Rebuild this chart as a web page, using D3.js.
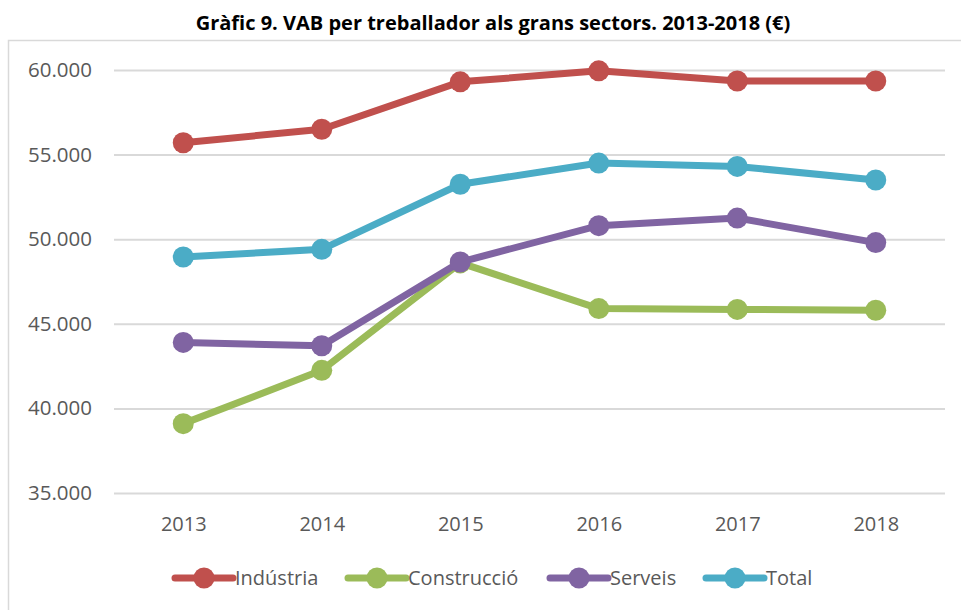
<!DOCTYPE html>
<html>
<head>
<meta charset="utf-8">
<script src="https://cdn.jsdelivr.net/npm/d3@7"></script>
<style>
    body {margin: 0; background: #fff;}
    text {font-family: 'Open Sans', sans-serif;}
</style>
</head>
<body>
<div id="viz"></div>
<script>

// dades - data

var anys = ['2013', '2014', '2015', '2016', '2017', '2018'];

var industria    = [55700, 56500, 59300, 59950, 59350, 59350];
var construccio  = [39100, 42250, 48600, 45900, 45850, 45800];
var serveis      = [43900, 43700, 48650, 50800, 51250, 49800];
var total        = [48950, 49400, 53250, 54500, 54300, 53500];

var yTicks = [35000, 40000, 45000, 50000, 55000, 60000];

var series = [
    {nom: 'Indústria', valors: industria, color: '#c0504d'},
    {nom: 'Construcció', valors: construccio, color: '#9bbb59'},
    {nom: 'Serveis', valors: serveis, color: '#8064a2'},
    {nom: 'Total', valors: total, color: '#4bacc6'}
];

var width = 961;
var height = 610;

var svg = d3
    .select('#viz')
    .append('svg')
    .attr('width', width)
    .attr('height', height)
    ;

// marc del grafic - chart frame (cut by the screenshot on the right/bottom)
svg.append('path')
    .attr('d', 'M8.5,' + height + 'V40.5H' + width)
    .attr('fill', 'none')
    .attr('stroke', '#d9d9d9')
    .attr('stroke-width', 1.5)
    ;

// titol
svg.append('text')
    .text('Gràfic 9. VAB per treballador als grans sectors. 2013-2018 (€)')
    .attr('x', 493)
    .attr('y', 30)
    .attr('text-anchor', 'middle')
    .style('font-weight', 700)
    .style('font-size', '20px')
    .attr('fill', '#000')
    ;

var x = d3.scalePoint()
    .domain(anys)
    .range([114, 945])
    .padding(0.5)
    ;

var y = d3.scaleLinear()
    .domain([35000, 60000])
    .range([493, 70])
    ;

var fmt = function(d){ return d3.format(',')(d).replace(/,/g, '.'); };

// eix y amb linies de graella
var yAxis = svg.append('g')
    .attr('transform', 'translate(114,0)')
    .call(d3.axisLeft(y).tickValues(yTicks).tickFormat(fmt).tickSize(-831).tickPadding(22))
    ;

yAxis.select('.domain').remove();
yAxis.selectAll('line')
    .attr('stroke', '#d9d9d9')
    .attr('stroke-width', 2)
    ;
yAxis.selectAll('text')
    .attr('fill', '#595959')
    .style('font-size', '20.5px')
    .style('font-family', "'Open Sans', sans-serif")
    ;

// eix x
var xAxis = svg.append('g')
    .attr('transform', 'translate(0,493)')
    .call(d3.axisBottom(x).tickSize(0).tickPadding(24))
    ;

xAxis.select('.domain').remove();
xAxis.selectAll('text')
    .attr('fill', '#595959')
    .style('font-size', '20px')
    .style('font-family', "'Open Sans', sans-serif")
    ;

// linies
var line = d3.line()
    .x(function(d, i){ return x(anys[i]); })
    .y(function(d){ return y(d); })
    ;

var g = svg.selectAll('g.serie')
    .data(series)
    .enter()
    .append('g')
    .attr('class', 'serie')
    ;

g.append('path')
    .attr('d', function(d){ return line(d.valors); })
    .attr('fill', 'none')
    .attr('stroke', function(d){ return d.color; })
    .attr('stroke-width', 7)
    .attr('stroke-linejoin', 'round')
    ;

g.selectAll('circle')
    .data(function(d){ return d.valors.map(function(v, i){ return {v: v, i: i, color: d.color}; }); })
    .enter()
    .append('circle')
    .attr('cx', function(d){ return x(anys[d.i]); })
    .attr('cy', function(d){ return y(d.v); })
    .attr('r', 10.5)
    .attr('fill', function(d){ return d.color; })
    ;

// llegenda
var legX = [175, 348, 550, 706];

var leg = svg.selectAll('g.llegenda')
    .data(series)
    .enter()
    .append('g')
    .attr('class', 'llegenda')
    .attr('transform', function(d, i){ return 'translate(' + legX[i] + ',578)'; })
    ;

leg.append('line')
    .attr('x1', 0)
    .attr('x2', 58)
    .attr('stroke', function(d){ return d.color; })
    .attr('stroke-width', 7)
    .attr('stroke-linecap', 'round')
    ;

leg.append('circle')
    .attr('cx', 29)
    .attr('r', 10.5)
    .attr('fill', function(d){ return d.color; })
    ;

leg.append('text')
    .text(function(d){ return d.nom; })
    .attr('x', 60)
    .attr('dy', '0.35em')
    .attr('fill', '#595959')
    .style('font-size', '20px')
    ;

</script>
</body>
</html>
